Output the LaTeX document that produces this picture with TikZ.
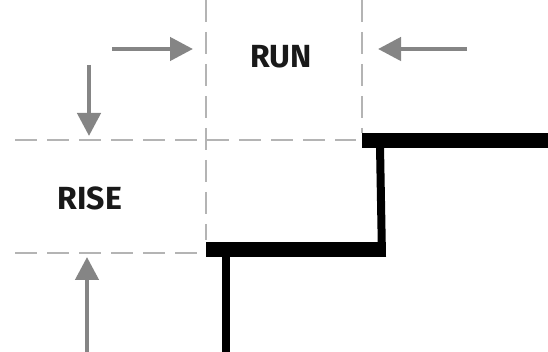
\documentclass[tikz,border=0pt]{standalone}
\usepackage{fontspec}
\setmainfont{Fira Sans}
\usetikzlibrary{arrows.meta}
\definecolor{arrowgray}{HTML}{858585}
\definecolor{dashgray}{HTML}{B4B4B4}
\tikzset{
  guide/.style={draw=dashgray, line width=1.8pt, dash pattern=on 22pt off 10pt},
  dimarrow/.style={draw=arrowgray, line width=4.5pt, -{Triangle[length=23pt,width=23pt]}},
  stairpart/.style={fill=black, draw=none},
  lbl/.style={font=\fontsize{32}{36}\selectfont\bfseries, inner sep=0pt, text=black!90}
}
\begin{document}
\begin{tikzpicture}[x=1pt,y=-1pt]
\useasboundingbox (0,0) rectangle (548,352);
% guides
\coordinate (v1t) at (206,0); \coordinate (v1b) at (206,240);
\coordinate (v2t) at (362,0); \coordinate (v2b) at (362,133);
\coordinate (h1l) at (15,140); \coordinate (h1r) at (356,140);
\coordinate (h2l) at (15,253); \coordinate (h2r) at (204,253);
\draw[guide] (v1t) -- (v1b);
\draw[guide] (v2t) -- (v2b);
\draw[guide] (h1l) -- (h1r);
\draw[guide] (h2l) -- (h2r);
% stairs
\fill[stairpart] (362,133) rectangle (548,148);
\fill[stairpart] (376,146) -- (384,146) -- (386,257) -- (378,257) -- cycle;
\fill[stairpart] (206,242) rectangle (386,257);
\fill[stairpart] (222,255) rectangle (230,352);
% arrows
\coordinate (a1s) at (112,49); \coordinate (a1e) at (193,49);
\coordinate (a2s) at (467,49); \coordinate (a2e) at (378,49);
\coordinate (a3s) at (89,65); \coordinate (a3e) at (89,136);
\coordinate (a4s) at (87,352); \coordinate (a4e) at (87,257);
\draw[dimarrow] (a1s) -- (a1e);
\draw[dimarrow] (a2s) -- (a2e);
\draw[dimarrow] (a3s) -- (a3e);
\draw[dimarrow] (a4s) -- (a4e);
% labels
\node[lbl] (run) at (281,57) {RUN};
\node[lbl] (rise) at (90,198) {RISE};
\end{tikzpicture}
\end{document}
